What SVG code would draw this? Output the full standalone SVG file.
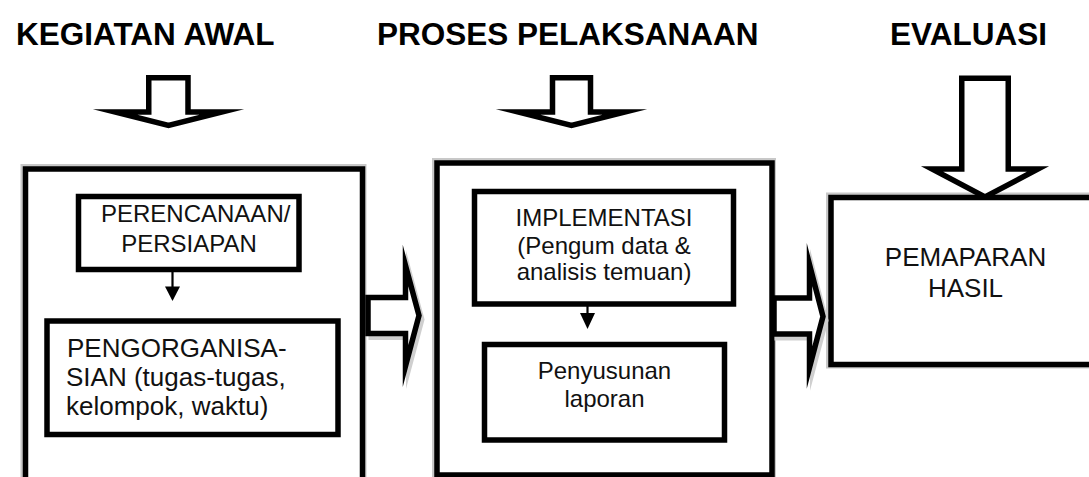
<svg xmlns="http://www.w3.org/2000/svg" width="1089" height="477" viewBox="0 0 1089 477">
  <defs>
    <style>
      .title { font-family: "Liberation Sans", Arial, sans-serif; font-weight: bold; font-size: 31.5px; fill: #000; }
      .lbl { font-family: "Liberation Sans", Arial, sans-serif; font-size: 24px; fill: #111; }
      .lbl26 { font-family: "Liberation Sans", Arial, sans-serif; font-size: 26px; fill: #111; }
      .frame { fill: #fff; stroke: #000; stroke-width: 5.5; }
      .frame-shadow { fill: none; stroke: #c8c8c8; stroke-width: 8; }
      .inner { fill: #fff; stroke: #000; stroke-width: 5.5; }
      .block { fill: #fff; stroke: #000; stroke-width: 5.5; stroke-linejoin: miter; stroke-miterlimit: 10; }
      .block-shadow { fill: none; stroke: #cfcfcf; stroke-width: 5; stroke-linejoin: miter; stroke-miterlimit: 10; }
      .link { stroke: #000; stroke-width: 2.2; fill: none; }
      .head { fill: #000; }
    </style>
  </defs>

  <rect width="1089" height="477" fill="#fff"/>

  <!-- column headings -->
  <g id="headings">
    <text class="title" x="16" y="45">KEGIATAN AWAL</text>
    <text class="title" x="377" y="45">PROSES PELAKSANAAN</text>
    <text class="title" x="890" y="45">EVALUASI</text>
  </g>

  <!-- stage frame: kegiatan awal -->
  <g id="stage-awal">
    <rect class="frame-shadow" x="24.5" y="168" width="338" height="330"/>
    <rect class="frame" x="25.5" y="169" width="337" height="330"/>
  </g>

  <!-- stage frame: proses pelaksanaan -->
  <g id="stage-proses">
    <rect class="frame-shadow" x="436" y="162" width="336" height="312"/>
    <rect class="frame" x="437" y="163" width="335" height="312"/>
  </g>

  <!-- stage frame: evaluasi -->
  <g id="stage-evaluasi">
    <rect class="frame-shadow" x="830" y="196.5" width="270" height="168"/>
    <rect class="frame" x="831" y="197.5" width="270" height="167"/>
    <text class="lbl26" x="965.5" y="266" text-anchor="middle">PEMAPARAN</text>
    <text class="lbl26" x="965.5" y="297" text-anchor="middle">HASIL</text>
  </g>

  <g id="perencanaan">
    <rect class="inner" x="78.5" y="196.5" width="220.5" height="73"/>
    <text class="lbl" x="101" y="222">PERENCANAAN/</text>
    <text class="lbl" x="189" y="252" text-anchor="middle">PERSIAPAN</text>
  </g>

  <g id="pengorganisasian">
    <rect class="inner" x="47" y="321" width="291" height="113.5"/>
    <text class="lbl26" x="67" y="357">PENGORGANISA-</text>
    <text class="lbl26" x="66" y="386">SIAN (tugas-tugas,</text>
    <text class="lbl26" x="66" y="415">kelompok, waktu)</text>
  </g>

  <g id="implementasi">
    <rect class="inner" x="474.5" y="191.5" width="259" height="112.5"/>
    <text class="lbl" x="604" y="226" text-anchor="middle">IMPLEMENTASI</text>
    <text class="lbl" x="604" y="253.5" text-anchor="middle">(Pengum data &amp;</text>
    <text class="lbl" x="604" y="280" text-anchor="middle">analisis temuan)</text>
  </g>

  <g id="penyusunan">
    <rect class="inner" x="484.5" y="344.5" width="240" height="95.5"/>
    <text class="lbl" x="604.5" y="379" text-anchor="middle">Penyusunan</text>
    <text class="lbl" x="604.5" y="407" text-anchor="middle">laporan</text>
  </g>

  <!-- connectors -->
  <g id="connectors">
    <!-- heading block arrows pointing down -->
    <path class="block" d="M148.75,77.75 H188 V112 H222 L168.5,125.5 L115,112 H148.75 Z"/>
    <path class="block" d="M552.5,77.75 H590.5 V112 H625 L571.5,125.5 L518,112 H552.5 Z"/>
    <path class="block" d="M961.75,78.25 H1008.25 V169 H1038 L985,197 L932,169 H961.75 Z"/>

    <!-- block arrows between stages, each with a soft offset shadow -->
    <path class="block-shadow" d="M371,301.5 H408.5 V269.5 L422,319.5 L408.5,370 V337.5 H371 Z"/>
    <path class="block" d="M368,297.5 H405.5 V265.5 L419,315.5 L405.5,366 V333.5 H368 Z"/>
    <path class="block-shadow" d="M777,302 H812.5 V268.5 L826,320.5 L812.5,371.5 V338 H777 Z"/>
    <path class="block" d="M774,298 H809.5 V264.5 L823,316.5 L809.5,367.5 V334 H774 Z"/>

    <!-- small arrows inside stages -->
    <line class="link" x1="172.5" y1="272" x2="172.5" y2="288"/>
    <polygon class="head" points="165,286.5 180,286.5 172.5,301"/>
    <line class="link" x1="587.5" y1="306" x2="587.5" y2="314"/>
    <polygon class="head" points="580,313 595,313 587.5,329"/>
  </g>
</svg>
